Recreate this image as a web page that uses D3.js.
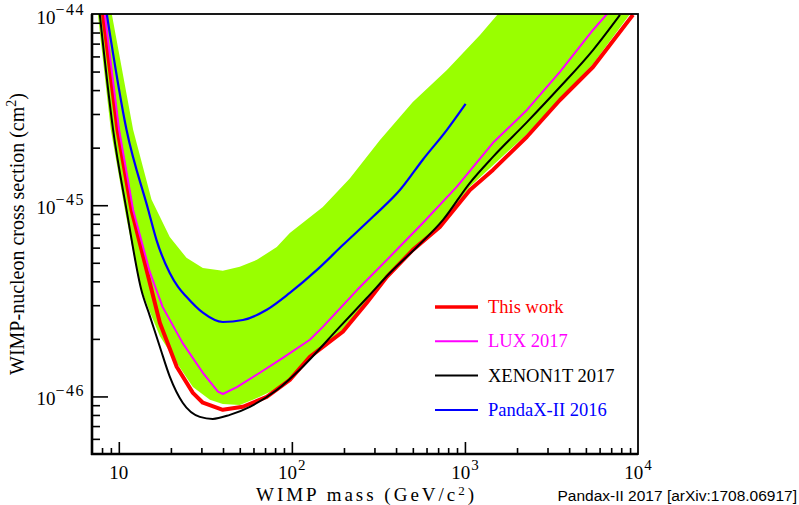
<!DOCTYPE html>
<html>
<head>
<meta charset="utf-8">
<script src="https://cdn.jsdelivr.net/npm/d3@7"></script>
<style>
  body { margin: 0; background: #fff; }
  svg { display: block; }
</style>
</head>
<body>
<svg id="chart" width="799" height="505"></svg>
<script>
// Spin-independent WIMP-nucleon cross-section limits (90% C.L.)
// mass in GeV/c^2, cross section in cm^2

const massDomain = [7, 1e4];
const sigmaDomain = [5e-47, 1e-44];

const xMajorTicks = [10, 100, 1000, 10000];
const xTickLabels = [["10", ""], ["10", "2"], ["10", "3"], ["10", "4"]];
const yMajorTicks = [1e-46, 1e-45, 1e-44];
const yTickLabels = [["10", "\u221246"], ["10", "\u221245"], ["10", "\u221244"]];

// PandaX-II 2017 limit (this work)
const thisWork = [
  [8.1, 1e-44], [9.83, 2.48e-45], [11.84, 9.45e-46], [15.1, 3.93e-46], [17.26, 2.43e-46],
  [21.6, 1.43e-46], [26.8, 1.044e-46], [30.6, 9.27e-47], [39.9, 8.51e-47], [52.1, 8.83e-47],
  [71.6, 9.95e-47], [97.3, 1.22e-46], [127, 1.61e-46], [197, 2.18e-46], [271, 3.09e-46],
  [354, 4.22e-46], [500, 5.84e-46], [716, 7.7e-46], [1069, 1.2e-45], [1452, 1.53e-45],
  [2282, 2.28e-45], [3540, 3.55e-45], [5495, 5.28e-45], [9354, 9.9e-45]
];

// LUX 2017
const lux2017 = [
  [8.3, 1e-44], [10.04, 2.48e-45], [12.1, 9.45e-46], [15.1, 4.48e-46], [17.9, 2.94e-46],
  [23.4, 1.9e-46], [30.6, 1.33e-46], [37.4, 1.06e-46], [39.9, 1.03e-46], [48.1, 1.12e-46],
  [65.3, 1.33e-46], [88.7, 1.59e-46], [127, 1.98e-46], [151, 2.31e-46], [238, 3.6e-46],
  [368, 5.37e-46], [571, 8.07e-46], [899, 1.25e-45], [1452, 2.12e-45], [2282, 3.15e-45],
  [3540, 4.98e-45], [5495, 8.25e-45], [6620, 1e-44]
];

// XENON1T 2017
const xenon1t2017 = [
  [7.76, 1e-44], [9.27, 2.48e-45], [11.08, 9.45e-46], [13.5, 3.6e-46], [15.1, 2.64e-46],
  [17.26, 1.82e-46], [19.7, 1.27e-46], [23.4, 9.27e-47], [29.4, 7.82e-47], [34.9, 7.63e-47],
  [43.8, 8.01e-47], [57.2, 8.83e-47], [81.8, 1.08e-46], [111, 1.38e-46], [189, 2.31e-46],
  [271, 3.27e-46], [368, 4.42e-46], [528, 6.05e-46], [747, 8.38e-46], [1069, 1.31e-45],
  [1452, 1.79e-45], [2282, 2.72e-45], [3540, 4.15e-45], [5495, 6.48e-45], [7870, 9.9e-45]
];

// PandaX-II 2016
const pandax2016 = [
  [8.52, 1e-44], [11.08, 2.48e-45], [14.8, 9.45e-46], [16.5, 6.59e-46], [19.7, 4.42e-46],
  [22.0, 3.74e-46], [24.6, 3.32e-46], [30.6, 2.74e-46], [39.9, 2.45e-46], [52.1, 2.51e-46],
  [71.6, 2.84e-46], [97.3, 3.48e-46], [139.6, 4.59e-46], [197, 6.19e-46], [294, 8.7e-46],
  [421, 1.2e-45], [571, 1.73e-45], [787, 2.48e-45], [1009, 3.39e-45]
];

// sensitivity band (upper and lower edges)
const bandUpper = [
  [9.11, 1e-44], [12.1, 2.48e-45], [15.45, 1.07e-45], [19.7, 6.82e-46], [24.6, 5.31e-46],
  [30.6, 4.7e-46], [39.9, 4.54e-46], [50, 4.76e-46], [62.8, 5.18e-46], [81.8, 6.05e-46],
  [97.3, 7.16e-46], [151, 9.8e-46], [216, 1.38e-45], [323, 2.19e-45], [500, 3.47e-45],
  [787, 5.1e-45], [1222, 7.76e-45], [1552, 1e-44]
];
const bandLower = [
  [7.56, 1e-44], [8.99, 2.48e-45], [10.98, 8.9e-46], [13.2, 3.83e-46], [15.1, 2.77e-46],
  [17.26, 2.07e-46], [21.6, 1.5e-46], [26.8, 1.12e-46], [33.6, 9.6e-47], [39.9, 9.14e-47],
  [50, 9.03e-47], [65.3, 9.95e-47], [85.3, 1.12e-46], [122, 1.5e-46], [197, 2.23e-46],
  [271, 3.16e-46], [354, 4.32e-46], [500, 5.98e-46], [716, 7.89e-46], [1069, 1.25e-45],
  [2282, 2.36e-45], [5495, 5.48e-45], [8995, 1e-44]
];

const legendLabels = ["This work", "LUX 2017", "XENON1T 2017", "PandaX-II 2016"];
const legendColors = ["#ff0000", "#ff00ff", "#000000", "#0000ff"];
const legendWidths = [3.5, 2, 2, 2];

// ---- layout ----
const plot = { left: 92, right: 638, top: 14, bottom: 454 };
const serif = "'Liberation Serif', 'Times New Roman', serif";

const svg = d3.select("#chart");

const x = d3.scaleLog().domain(massDomain).range([plot.left, plot.right]);
const y = d3.scaleLog().domain(sigmaDomain).range([plot.bottom, plot.top]);

svg.append("defs").append("clipPath").attr("id", "plot-clip")
  .append("rect")
  .attr("x", plot.left).attr("y", plot.top)
  .attr("width", plot.right - plot.left).attr("height", plot.bottom - plot.top);

const g = svg.append("g").attr("clip-path", "url(#plot-clip)");

// band polygon: lower edge left to right, then upper edge back
const bandPts = bandLower.concat(bandUpper.slice().reverse());
g.append("path")
  .attr("d", d3.line().x(d => x(d[0])).y(d => y(d[1]))(bandPts) + "Z")
  .attr("fill", "#99ff00")
  .attr("stroke", "none");

const linear = d3.line().x(d => x(d[0])).y(d => y(d[1]));
const smooth = d3.line().x(d => x(d[0])).y(d => y(d[1])).curve(d3.curveMonotoneX);

function drawCurve(data, gen, color, width) {
  g.append("path")
    .attr("d", gen(data))
    .attr("fill", "none")
    .attr("stroke", color)
    .attr("stroke-width", width)
    .attr("stroke-linejoin", "round");
}

drawCurve(thisWork, linear, "#ff0000", 4);
drawCurve(lux2017, linear, "#ff00ff", 2);
drawCurve(xenon1t2017, smooth, "#000000", 2);
drawCurve(pandax2016, smooth, "#0000ff", 2.2);

// ---- axes ----
function minorTicks(lo, hi) {
  const out = [];
  for (let e = Math.floor(Math.log10(lo)); e <= Math.ceil(Math.log10(hi)); e++) {
    for (let k = 2; k <= 9; k++) {
      const v = k * Math.pow(10, e);
      if (v > lo * 1.0001 && v < hi * 0.9999) out.push(v);
    }
  }
  return out;
}

const xMinor = minorTicks(massDomain[0], massDomain[1]);
const yMinor = minorTicks(sigmaDomain[0], sigmaDomain[1]);

// x axis ticks (pointing up into the frame)
svg.append("g").attr("transform", `translate(0,${plot.bottom})`)
  .call(d3.axisBottom(x).tickValues(xMinor).tickSize(-6).tickFormat(""))
  .call(a => a.select(".domain").remove())
  .call(a => a.selectAll("line").attr("stroke", "#000").attr("stroke-width", 1.6));
svg.append("g").attr("transform", `translate(0,${plot.bottom})`)
  .call(d3.axisBottom(x).tickValues(xMajorTicks.filter(v => v < massDomain[1])).tickSize(-12).tickFormat(""))
  .call(a => a.select(".domain").remove())
  .call(a => a.selectAll("line").attr("stroke", "#000").attr("stroke-width", 1.6));

// y axis ticks (pointing right into the frame)
svg.append("g").attr("transform", `translate(${plot.left},0)`)
  .call(d3.axisLeft(y).tickValues(yMinor).tickSize(-8).tickFormat(""))
  .call(a => a.select(".domain").remove())
  .call(a => a.selectAll("line").attr("stroke", "#000").attr("stroke-width", 1.6));
svg.append("g").attr("transform", `translate(${plot.left},0)`)
  .call(d3.axisLeft(y).tickValues(yMajorTicks.filter(v => v < sigmaDomain[1])).tickSize(-16).tickFormat(""))
  .call(a => a.select(".domain").remove())
  .call(a => a.selectAll("line").attr("stroke", "#000").attr("stroke-width", 1.6));

// frame
svg.append("rect")
  .attr("x", plot.left).attr("y", plot.top)
  .attr("width", plot.right - plot.left).attr("height", plot.bottom - plot.top)
  .attr("fill", "none").attr("stroke", "#000").attr("stroke-width", 1.8);
svg.append("line").attr("x1", plot.left).attr("x2", plot.left)
  .attr("y1", plot.top).attr("y2", plot.bottom + 1)
  .attr("stroke", "#000").attr("stroke-width", 2.6);
svg.append("line").attr("x1", plot.left - 1).attr("x2", plot.right)
  .attr("y1", plot.bottom).attr("y2", plot.bottom)
  .attr("stroke", "#000").attr("stroke-width", 2.6);

// x tick labels
xMajorTicks.forEach((v, i) => {
  const t = svg.append("text")
    .attr("x", x(v)).attr("y", 479)
    .attr("text-anchor", "middle")
    .attr("font-family", serif).attr("font-size", 19).attr("fill", "#000");
  t.append("tspan").text(xTickLabels[i][0]);
  if (xTickLabels[i][1]) {
    t.append("tspan").attr("dy", -9).attr("dx", 1).attr("font-size", 15).text(xTickLabels[i][1]);
  }
});

// y tick labels
yMajorTicks.forEach((v, i) => {
  const t = svg.append("text")
    .attr("x", 85).attr("y", Math.max(y(v) + 9, 24))
    .attr("text-anchor", "end")
    .attr("font-family", serif).attr("font-size", 19).attr("fill", "#000");
  t.append("tspan").text(yTickLabels[i][0]);
  t.append("tspan").attr("dy", -9).attr("font-size", 16)
    .attr("letter-spacing", 1.5).text(yTickLabels[i][1]);
});

// axis titles
const xt = svg.append("text")
  .attr("x", 256).attr("y", 501)
  .attr("textLength", 218).attr("lengthAdjust", "spacing")
  .attr("font-family", serif).attr("font-size", 19).attr("fill", "#000");
xt.append("tspan").text("WIMP mass (GeV/c");
xt.append("tspan").attr("dy", -6).attr("font-size", 13).text("2");
xt.append("tspan").attr("dy", 6).text(")");

const yt = svg.append("text")
  .attr("transform", `translate(24,${(plot.top + plot.bottom) / 2}) rotate(-90)`)
  .attr("text-anchor", "middle")
  .attr("font-family", serif).attr("font-size", 20).attr("fill", "#000");
yt.append("tspan").text("WIMP-nucleon cross section (cm");
yt.append("tspan").attr("dy", -8).attr("font-size", 14).text("2");
yt.append("tspan").attr("dy", 8).text(")");

// legend
const legend = svg.append("g");
legendLabels.forEach((lab, i) => {
  const ly = 307 + i * 34.3;
  legend.append("line")
    .attr("x1", 435).attr("x2", 478).attr("y1", ly).attr("y2", ly)
    .attr("stroke", legendColors[i]).attr("stroke-width", legendWidths[i]);
  legend.append("text")
    .attr("x", 488).attr("y", ly + 6)
    .attr("font-family", serif).attr("font-size", 18.5)
    .attr("fill", legendColors[i]).text(lab);
});

// reference note
svg.append("text")
  .attr("x", 797).attr("y", 501)
  .attr("text-anchor", "end")
  .attr("font-family", "'Liberation Sans', Arial, sans-serif").attr("font-size", 15.5)
  .attr("fill", "#000")
  .text("Pandax-II 2017 [arXiv:1708.06917]");
</script>
</body>
</html>
